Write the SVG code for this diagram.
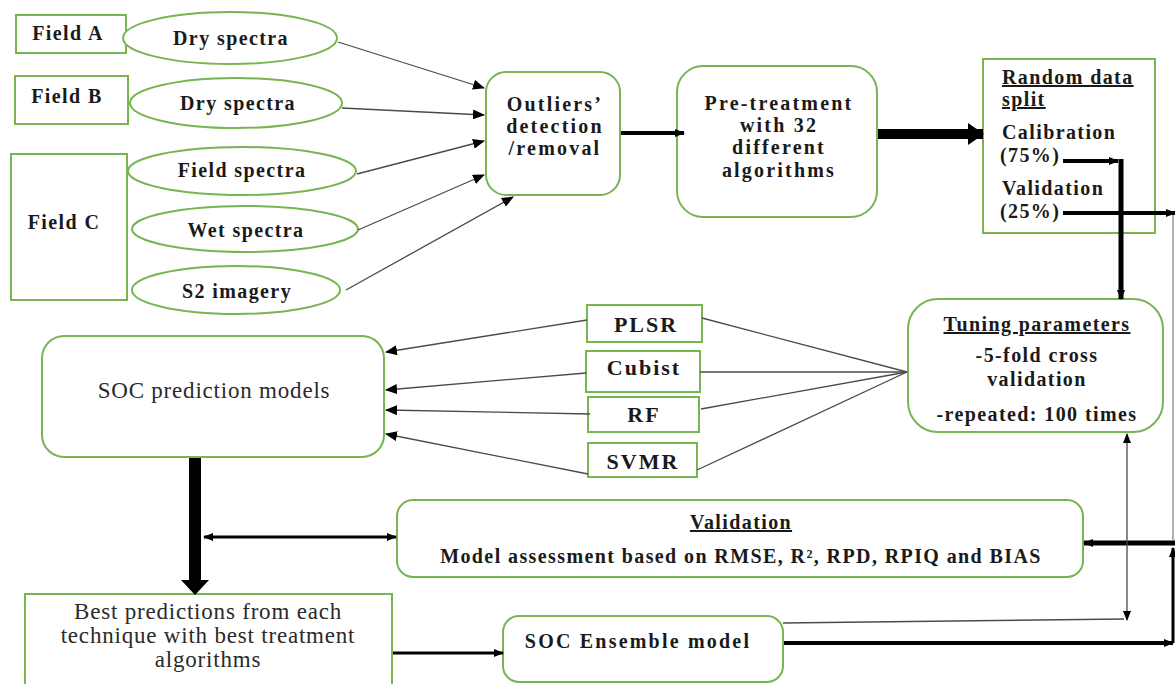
<svg xmlns="http://www.w3.org/2000/svg" width="1175" height="684" viewBox="0 0 1175 684">
<defs>
<style>
.n{fill:#fff;stroke:#77b551;stroke-width:2}
.t{font-family:"Liberation Serif",serif;font-weight:bold;font-size:20px;letter-spacing:1.4px;fill:#1a1a1a;text-anchor:middle}
.tb{font-family:"Liberation Serif",serif;font-weight:bold;font-size:20px;letter-spacing:2.2px;fill:#1a1a1a;text-anchor:middle}
.tm{font-family:"Liberation Serif",serif;font-weight:bold;font-size:22px;letter-spacing:2px;fill:#1a1a1a;text-anchor:middle}
.tl{font-family:"Liberation Serif",serif;font-weight:bold;font-size:20px;letter-spacing:1.4px;fill:#1a1a1a}
.r{font-family:"Liberation Serif",serif;font-size:23px;letter-spacing:0.8px;fill:#2a2a2a;text-anchor:middle}
.thin{stroke:#4a4a4a;stroke-width:1.3;fill:none}
.thk{stroke:#000;fill:none}
</style>
<marker id="ah" markerUnits="userSpaceOnUse" markerWidth="12" markerHeight="10" refX="11" refY="5" orient="auto"><path d="M0,0 L12,5 L0,10 Z" fill="#000"/></marker>
<marker id="ahs" markerUnits="userSpaceOnUse" markerWidth="10" markerHeight="8" refX="9" refY="4" orient="auto-start-reverse"><path d="M0,0 L10,4 L0,8 Z" fill="#000"/></marker>
<marker id="ahb" markerUnits="userSpaceOnUse" markerWidth="16" markerHeight="22" refX="15" refY="11" orient="auto"><path d="M0,0 L16,11 L0,22 Z" fill="#000"/></marker>
</defs>
<rect width="1175" height="684" fill="#fff"/>

<g id="fieldA"><rect class="n" x="16" y="15" width="110" height="38"/><text class="t" x="68" y="40">Field A</text></g>
<g id="fieldB"><rect class="n" x="15" y="76" width="113" height="48"/><text class="t" x="67" y="103">Field B</text></g>
<g id="fieldC"><rect class="n" x="11" y="154" width="116" height="146"/><text class="t" x="64" y="229">Field C</text></g>
<g id="dryA"><ellipse class="n" cx="230" cy="38" rx="107" ry="26"/><text class="t" x="231" y="45">Dry spectra</text></g>
<g id="dryB"><ellipse class="n" cx="236" cy="103" rx="106" ry="25"/><text class="t" x="238" y="110">Dry spectra</text></g>
<g id="fieldSp"><ellipse class="n" cx="242" cy="171" rx="114" ry="24"/><text class="t" x="242" y="177">Field spectra</text></g>
<g id="wetSp"><ellipse class="n" cx="245" cy="229" rx="113" ry="23"/><text class="t" x="246" y="237">Wet spectra</text></g>
<g id="s2"><ellipse class="n" cx="236" cy="290" rx="104" ry="24"/><text class="t" x="237" y="298">S2 imagery</text></g>

<g id="outliers"><rect class="n" x="486" y="72" width="134" height="123" rx="20"/>
<text class="tb" x="555" y="111">Outliers’</text><text class="tb" x="555" y="133">detection</text><text class="tb" x="555" y="155">/removal</text></g>
<g id="pretreat"><rect class="n" x="677" y="66" width="200" height="151" rx="26"/>
<text class="tb" x="779" y="110">Pre-treatment</text><text class="tb" x="779" y="132">with 32</text><text class="tb" x="779" y="154">different</text><text class="tb" x="779" y="177">algorithms</text></g>
<g id="split"><rect class="n" x="983" y="59" width="172" height="174"/>
<text class="tl" x="1002" y="84" text-decoration="underline">Random data</text>
<text class="tl" x="1002" y="106" text-decoration="underline">split</text>
<text class="tl" x="1002" y="139">Calibration</text>
<text class="tl" x="1000" y="162">(75%)</text>
<text class="tl" x="1002" y="195">Validation</text>
<text class="tl" x="1000" y="218">(25%)</text></g>

<g id="tuning"><rect class="n" x="908" y="299" width="255" height="133" rx="30"/>
<text class="t" x="1037" y="331" text-decoration="underline">Tuning parameters</text>
<text class="t" x="1037" y="362">-5-fold cross</text>
<text class="t" x="1037" y="386">validation</text>
<text class="t" x="1037" y="421">-repeated: 100 times</text></g>

<g id="plsr"><rect class="n" x="587" y="305" width="115" height="37"/><text class="tm" x="646" y="332">PLSR</text></g>
<g id="cubist"><rect class="n" x="586" y="351" width="114" height="41"/><text class="tm" x="644" y="375">Cubist</text></g>
<g id="rf"><rect class="n" x="588" y="397" width="111" height="35"/><text class="tm" x="644" y="422">RF</text></g>
<g id="svmr"><rect class="n" x="588" y="443" width="109" height="34"/><text class="tm" x="643" y="469">SVMR</text></g>

<g id="socpred"><rect class="n" x="42" y="336" width="342" height="121" rx="22"/><text class="r" x="214" y="398">SOC prediction models</text></g>

<g id="validation"><rect class="n" x="397" y="500" width="686" height="77" rx="16"/>
<text class="t" x="741" y="529" text-decoration="underline">Validation</text>
<text class="t" x="741" y="563">Model assessment based on RMSE, R², RPD, RPIQ and BIAS</text></g>

<g id="best"><rect class="n" x="25" y="594" width="367" height="95"/>
<text class="r" x="208" y="619">Best predictions from each</text>
<text class="r" x="208" y="643">technique with best treatment</text>
<text class="r" x="208" y="667">algorithms</text></g>

<g id="ensemble"><rect class="n" x="503" y="616" width="280" height="66" rx="16"/><text class="tb" x="638" y="648">SOC Ensemble model</text></g>

<g id="connectors">
<line class="thin" x1="338" y1="42" x2="484" y2="88" marker-end="url(#ah)"/>
<line class="thin" x1="342" y1="108" x2="484" y2="115" marker-end="url(#ah)"/>
<line class="thin" x1="357" y1="174" x2="484" y2="141" marker-end="url(#ah)"/>
<line class="thin" x1="358" y1="230" x2="484" y2="175" marker-end="url(#ah)"/>
<line class="thin" x1="346" y1="290" x2="513" y2="197" marker-end="url(#ah)"/>
<line class="thk" stroke-width="4" x1="621" y1="133" x2="684" y2="133" marker-end="url(#ahs)"/>
<line class="thk" stroke-width="10" x1="878" y1="134" x2="983" y2="134" marker-end="url(#ahb)"/>
<line class="thk" stroke-width="4" x1="1063" y1="161" x2="1118" y2="161" marker-end="url(#ahs)"/>
<line class="thk" stroke-width="5" x1="1121" y1="159" x2="1121" y2="299" marker-end="url(#ahs)"/>
<line class="thk" stroke-width="4" x1="1063" y1="213" x2="1175" y2="213" marker-end="url(#ahs)"/>
<line stroke="#888" stroke-width="1.3" x1="1173" y1="215" x2="1173" y2="540"/>
<line class="thk" stroke-width="5" x1="1175" y1="543" x2="1084" y2="543" marker-end="url(#ahs)"/>
<line class="thk" stroke-width="3" x1="1173" y1="643" x2="1173" y2="548" marker-end="url(#ahs)"/>
<line class="thin" x1="1127" y1="620" x2="1127" y2="434" marker-end="url(#ahs)" marker-start="url(#ahs)"/>
<polyline class="thin" points="783,623 1124,619"/>
<line class="thk" stroke-width="4" x1="784" y1="643" x2="1173" y2="643" marker-end="url(#ahs)"/>
<line class="thin" x1="587" y1="320" x2="386" y2="352" marker-end="url(#ah)"/>
<line class="thin" x1="586" y1="373" x2="386" y2="390" marker-end="url(#ah)"/>
<line class="thin" x1="590" y1="414" x2="386" y2="410" marker-end="url(#ah)"/>
<line class="thin" x1="588" y1="474" x2="386" y2="434" marker-end="url(#ah)"/>
<line class="thin" x1="702" y1="318" x2="907" y2="372"/>
<line class="thin" x1="700" y1="372" x2="907" y2="372"/>
<line class="thin" x1="701" y1="409" x2="907" y2="372"/>
<line class="thin" x1="697" y1="470" x2="907" y2="372"/>
<rect x="189" y="458" width="12" height="123" fill="#000"/>
<polygon points="181,580 209,580 195,595" fill="#000"/>
<line class="thk" stroke-width="3" x1="204" y1="537" x2="396" y2="537" marker-end="url(#ahs)" marker-start="url(#ahs)"/>
<line class="thk" stroke-width="3" x1="393" y1="653" x2="503" y2="653" marker-end="url(#ahs)"/>
</g>
</svg>
